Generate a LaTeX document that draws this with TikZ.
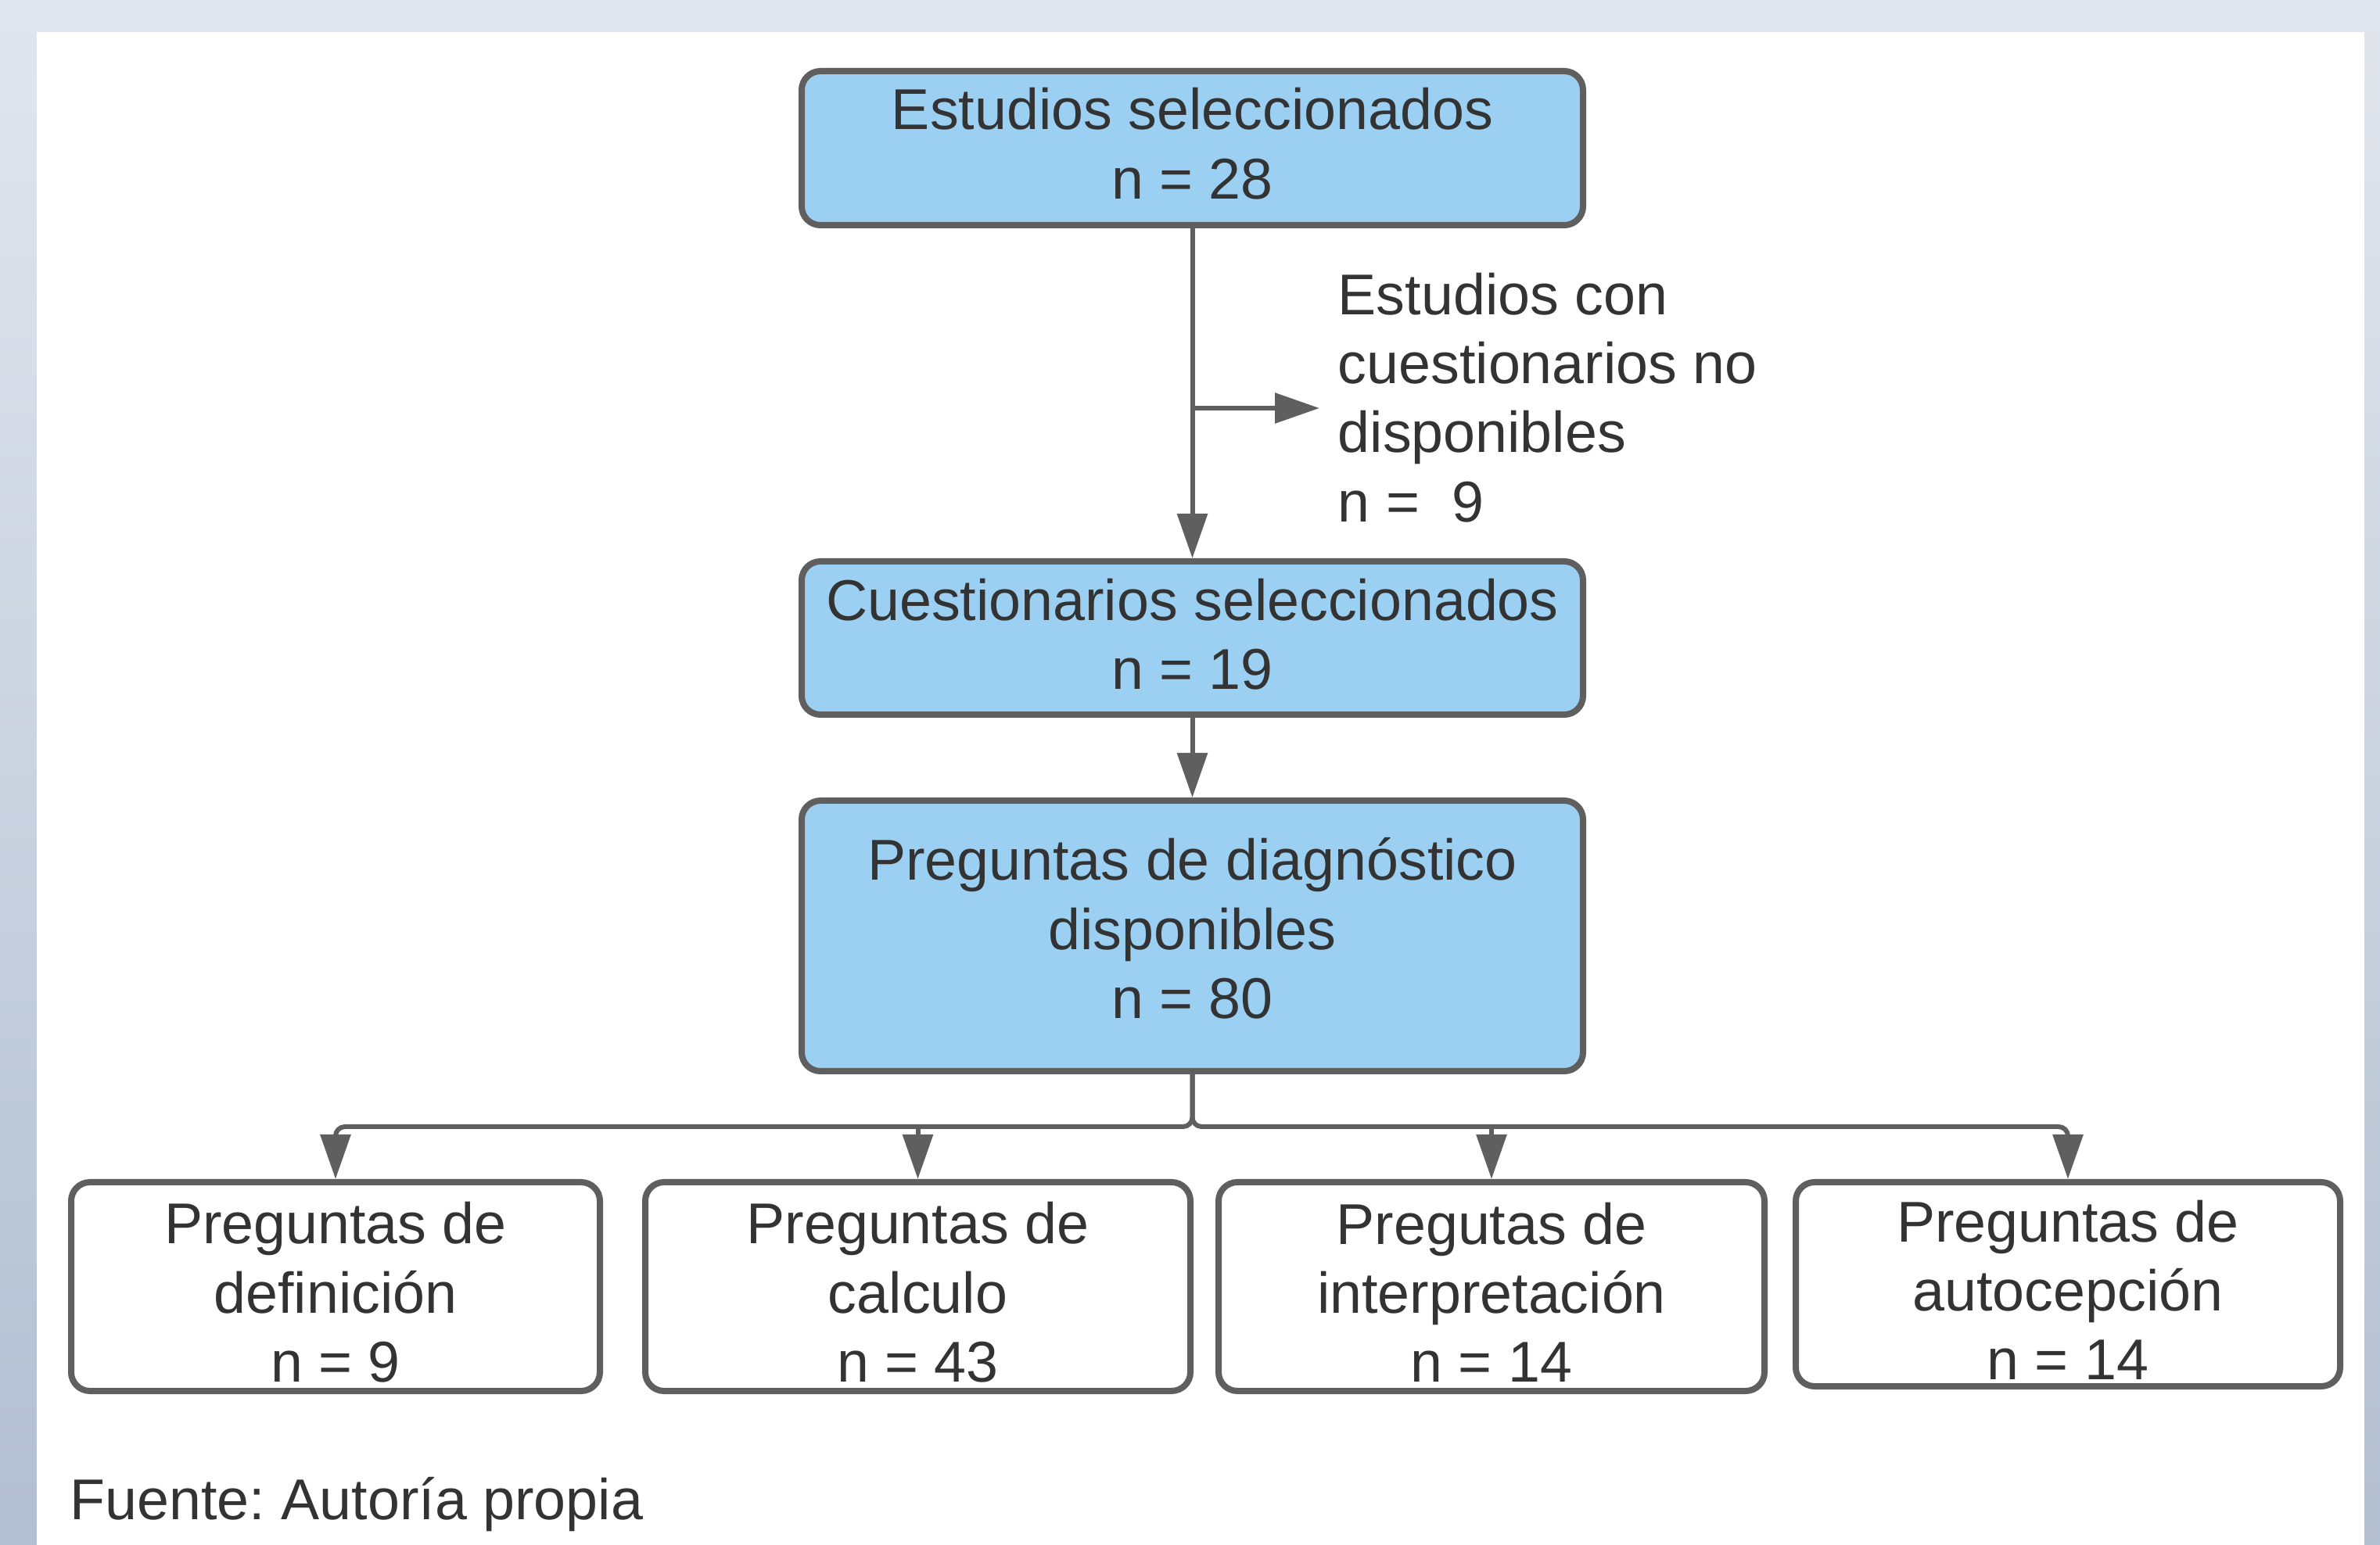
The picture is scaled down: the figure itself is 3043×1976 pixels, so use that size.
\documentclass[tikz,border=0pt]{standalone}
\usepackage{fontspec}
\setmainfont{Liberation Sans}
\usetikzlibrary{arrows.meta}
\frenchspacing
\definecolor{bgtop}{HTML}{E1E6EE}
\definecolor{bgbot}{HTML}{B2BFD1}
\definecolor{boxblue}{HTML}{9BD0F2}
\definecolor{edge}{HTML}{5F5F5F}
\definecolor{ink}{HTML}{333333}
\newcommand\dn[1]{\rule[-#1]{0pt}{0pt}}
\newcommand\up[1]{\rule{0pt}{#1}}
\begin{document}
\begin{tikzpicture}[x=0.25pt,y=-0.25pt,
  txt/.style={font=\fontsize{18.4pt}{22.1pt}\selectfont, text=ink},
  bluebox/.style={txt, draw=edge, line width=2pt, fill=boxblue, rounded corners=6pt, align=center, inner sep=0pt, minimum width=249.75pt},
  whitebox/.style={txt, draw=edge, line width=2pt, fill=white, rounded corners=6pt, align=center, inner sep=0pt, minimum height=66.75pt},
  conn/.style={draw=edge, line width=1.5pt, -{Triangle[length=14.25pt,width=9.5pt]}}]
\useasboundingbox (0,0) rectangle (3043,1976);
\shade[top color=bgtop,bottom color=bgbot] (0,0) rectangle (3043,1976);
\fill[white] (47,41) rectangle (3023,1976);

\node[bluebox, minimum height=49.25pt] (b1) at (1524.5,189.5) {Estudios seleccionados\\n = 28\dn{3pt}};
\node[bluebox, minimum height=49pt] (b2) at (1524.5,816) {Cuestionarios seleccionados\\n = 19\dn{2.5pt}};
\node[bluebox, minimum height=86.5pt] (b3) at (1524.5,1197) {Preguntas de diagnóstico\\disponibles\\n = 80\dn{5pt}};
\node[whitebox, minimum width=169pt] (qa) at (429,1645.5) {\up{17pt}Preguntas de\\definición\\n = 9};
\node[whitebox, minimum width=174.25pt] (qb) at (1173.5,1645.5) {\up{17pt}Preguntas de\\calculo\\n = 43};
\node[whitebox, minimum width=174.5pt] (qc) at (1907,1645.5) {\up{17pt}Pregutas de\\interpretación\\n = 14};
\node[whitebox, minimum width=174pt, minimum height=65.25pt] (qd) at (2644,1642.5) {\up{17pt}Preguntas de\\autocepción\\n = 14};

\node[txt, align=left, inner sep=0pt, anchor=north west] (side) at (1710,348) {Estudios con\\cuestionarios no\\disponibles\\n =\ \ 9};
\node[txt, inner sep=0pt, anchor=base west] (src) at (89,1943) {Fuente: Autoría propia};

\coordinate (sidey) at (0,522);
\coordinate (sj) at (b1.south |- sidey);
\coordinate (se) at (1687,522);
\coordinate (bus) at (1524.5,1441);

\draw[conn] (b1.south) -- (b2.north);
\draw[conn] (sj) -- (se);
\draw[conn] (b2.south) -- (b3.north);
\draw[conn, rounded corners=3pt] (b3.south) |- (qa.north |- bus) -- (qa.north);
\draw[conn, rounded corners=3pt] (b3.south) |- (qd.north |- bus) -- (qd.north);
\draw[conn] (qb.north |- bus) -- (qb.north);
\draw[conn] (qc.north |- bus) -- (qc.north);
\end{tikzpicture}
\end{document}
